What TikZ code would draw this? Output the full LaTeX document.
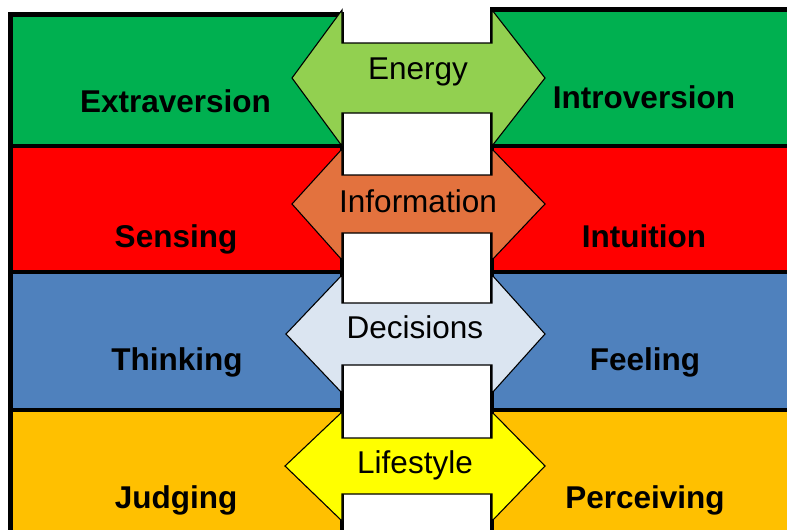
\documentclass[tikz,border=0pt]{standalone}
\usepackage{fontspec}
\setmainfont{Liberation Sans}
\definecolor{ecolor}{RGB}{0,176,80}
\definecolor{earrow}{RGB}{146,208,80}
\definecolor{scolor}{RGB}{255,0,0}
\definecolor{sarrow}{RGB}{227,114,62}
\definecolor{tcolor}{RGB}{79,129,189}
\definecolor{tarrow}{RGB}{219,229,241}
\definecolor{jcolor}{RGB}{255,192,0}
\definecolor{jarrow}{RGB}{255,255,0}

\begin{document}
\begin{tikzpicture}[x=1pt ,y=-1pt ,
pole/.style ={ draw , line width =4.5pt },
axis/.style ={ draw , line width =1.1pt , line join =miter },
trait/.style ={ anchor =base , inner sep =0pt ,
font =\fontsize{31.5}{36}\selectfont\bfseries },
dimension/.style ={ anchor =base , inner sep =0pt ,
font =\fontsize{31.5}{36}\selectfont }]
\useasboundingbox (0,0) rectangle (787,530);
\clip (0,0) rectangle (787,530);
% left column
\draw[pole,fill=ecolor] (10.5,14.5) rectangle (342,146);
\draw[pole,fill=scolor] (10.5,146) rectangle (342,272);
\draw[pole,fill=tcolor] (10.5,272) rectangle (342,410);
\draw[pole,fill=jcolor] (10.5,410) rectangle (342,545);
% right column
\draw[pole,fill=ecolor] (492,9.5) rectangle (800,146);
\draw[pole,fill=scolor] (492,146) rectangle (800,272);
\draw[pole,fill=tcolor] (492,272) rectangle (800,410);
\draw[pole,fill=jcolor] (492,410) rectangle (800,545);
% double arrows
\draw[axis,fill=earrow] (292,78) -- (342,10) -- (342,43) -- (492,43) -- (492,10)
-- (545,78) -- (492,146) -- (492,113) -- (342,113) -- (342,146) -- cycle;
\draw[axis,fill=sarrow] (292,204) -- (342,149) -- (342,175) -- (492,175) -- (492,149)
-- (545,204) -- (492,260) -- (492,233) -- (342,233) -- (342,260) -- cycle;
\draw[axis,fill=tarrow] (286,334) -- (342,275) -- (342,303) -- (492,303) -- (492,275)
-- (545,334) -- (492,393) -- (492,365) -- (342,365) -- (342,393) -- cycle;
\draw[axis,fill=jarrow] (285,466) -- (342,412) -- (342,438) -- (492,438) -- (492,412)
-- (545,466) -- (492,521) -- (492,494) -- (342,494) -- (342,521) -- cycle;
% labels
\node[trait] (E) at (175.5,112) {Extraversion};
\node[trait] (I) at (644,108) {Introversion};
\node[trait] (S) at (176,247) {Sensing};
\node[trait] (N) at (644,247) {Intuition};
\node[trait] (T) at (177,370) {Thinking};
\node[trait] (F) at (645,370) {Feeling};
\node[trait] (J) at (176,508) {Judging};
\node[trait] (P) at (645,508) {Perceiving};
\node[dimension] (energy) at (418,79) {Energy};
\node[dimension] (information) at (418,212) {Information};
\node[dimension] (decisions) at (415,338) {Decisions};
\node[dimension] (lifestyle) at (415,473) {Lifestyle};
\end{tikzpicture}
\end{document}
